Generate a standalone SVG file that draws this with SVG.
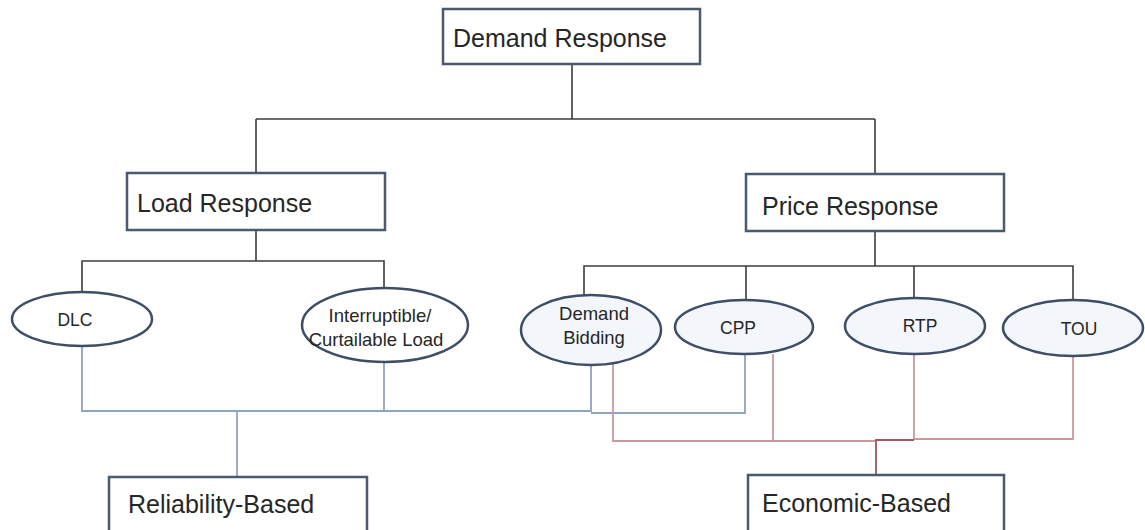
<svg xmlns="http://www.w3.org/2000/svg" width="1145" height="530" viewBox="0 0 1145 530">
  <style>
    .box { fill: #ffffff; stroke: #4a5a70; stroke-width: 2.5; }
    .oval { fill: #ffffff; stroke: #3d4e66; stroke-width: 2.5; }
    .oval.tint { fill: #f3f7fb; }
    .lbl { font-family: "Liberation Sans", Arial, sans-serif; font-size: 25px; fill: #262626; }
    .olbl { font-family: "Liberation Sans", Arial, sans-serif; font-size: 17.5px; fill: #262626; text-anchor: middle; }
    .olbl.two { font-size: 18.5px; }
    .tree { fill: none; stroke: #3c3c3c; stroke-width: 1.6; }
    .rel { fill: none; stroke: #8ea4c4; stroke-width: 1.8; }
    .eco { fill: none; stroke: #c99a9a; stroke-width: 1.8; }
    .eco-drop { fill: none; stroke: #a05858; stroke-width: 1.8; }
  </style>

  <!-- connectors -->
  <g id="connectors">
    <!-- hierarchy -->
    <path class="tree" d="M572 64 V119 M256 119 H875 M256 119 V173 M875 119 V174"/>
    <path class="tree" d="M256 230 V261 M82 292 V261 H384 V288"/>
    <path class="tree" d="M875 231 V266 M584 295 V266 H1073 V300 M746 266 V300 M914 266 V298"/>
    <!-- reliability-based grouping -->
    <path class="rel" d="M82 347 V411 H591 V365 M384 362 V411 M745 355 V413 H591 M237 411 V477"/>
    <!-- economic-based grouping -->
    <path class="eco" d="M613 364 V441 H876 M773 354 V441 M914 355 V439 M1073 357 V439 H914"/>
    <path class="eco-drop" d="M876 475 V440 H914"/>
  </g>

  <g id="demand-response">
    <rect class="box" x="443" y="9" width="257" height="55"/>
    <text class="lbl" x="453" y="47">Demand Response</text>
  </g>

  <g id="load-response">
    <rect class="box" x="127" y="173" width="258" height="57"/>
    <text class="lbl" x="137" y="212">Load Response</text>
  </g>

  <g id="price-response">
    <rect class="box" x="746" y="174" width="258" height="57"/>
    <text class="lbl" x="762" y="215">Price Response</text>
  </g>

  <g id="dlc">
    <ellipse class="oval" cx="82" cy="319" rx="70" ry="27"/>
    <text class="olbl" x="75" y="326">DLC</text>
  </g>

  <g id="interruptible">
    <ellipse class="oval" cx="385" cy="325" rx="83" ry="37"/>
    <text class="olbl two" x="380" y="322">Interruptible/</text>
    <text class="olbl two" x="376" y="346">Curtailable Load</text>
  </g>

  <g id="demand-bidding">
    <ellipse class="oval tint" cx="591" cy="330" rx="70" ry="35"/>
    <text class="olbl two" x="594" y="320">Demand</text>
    <text class="olbl two" x="594" y="344">Bidding</text>
  </g>

  <g id="cpp">
    <ellipse class="oval tint" cx="744" cy="327" rx="69" ry="27"/>
    <text class="olbl" x="738" y="334">CPP</text>
  </g>

  <g id="rtp">
    <ellipse class="oval tint" cx="915" cy="326" rx="70" ry="28"/>
    <text class="olbl" x="920" y="332">RTP</text>
  </g>

  <g id="tou">
    <ellipse class="oval tint" cx="1073" cy="328" rx="70" ry="28"/>
    <text class="olbl" x="1079" y="335">TOU</text>
  </g>

  <g id="reliability-based">
    <rect class="box" x="109" y="477" width="258" height="70"/>
    <text class="lbl" x="128" y="513">Reliability-Based</text>
  </g>

  <g id="economic-based">
    <rect class="box" x="748" y="475" width="256" height="72"/>
    <text class="lbl" x="762" y="512">Economic-Based</text>
  </g>
</svg>
